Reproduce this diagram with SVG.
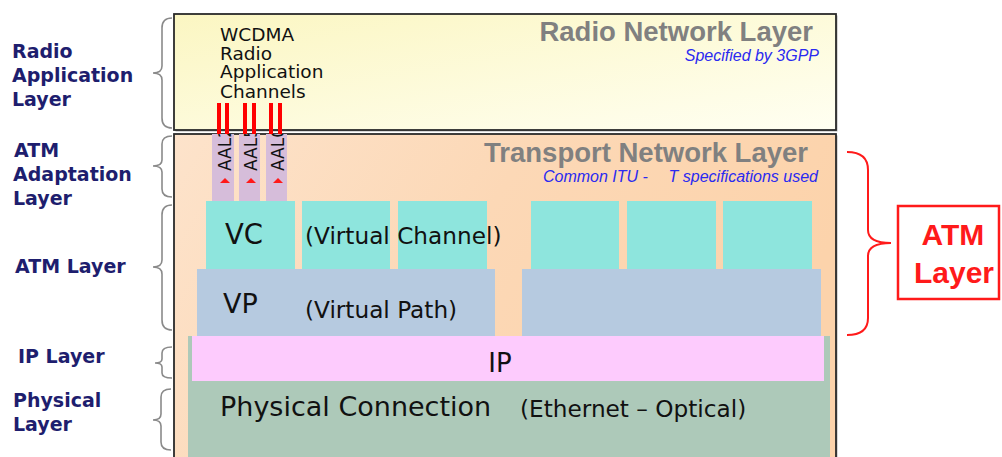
<svg xmlns="http://www.w3.org/2000/svg" width="1002" height="457" viewBox="0 0 1002 457">
<defs>
<linearGradient id="gYellow" x1="0" y1="0" x2="1" y2="1">
<stop offset="0" stop-color="#fbf6c2"/>
<stop offset="1" stop-color="#fffff2"/>
</linearGradient>
<linearGradient id="gPeach" x1="0" y1="0" x2="1" y2="0.3">
<stop offset="0" stop-color="#fde3cb"/>
<stop offset="0.5" stop-color="#fcd8b6"/>
<stop offset="1" stop-color="#fcd3ab"/>
</linearGradient>
<clipPath id="aalClip"><rect x="200" y="134" width="100" height="70"/></clipPath>
<style>
.lbl{font-family:"DejaVu Sans",Verdana,sans-serif;font-weight:bold;font-size:19px;fill:#1e1e6e}
.brace{fill:none;stroke:#8a8a8a;stroke-width:1.6}
.title{font-family:"Liberation Sans",Arial,sans-serif;font-weight:bold;font-size:27.5px;fill:#808080}
.sub{font-family:"Liberation Sans",Arial,sans-serif;font-style:italic;font-size:16px;fill:#2a2af0}
.body{font-family:"DejaVu Sans",Verdana,sans-serif;fill:#111}
.aal{font-family:"DejaVu Sans",Verdana,sans-serif;font-size:17px;fill:#111}
.vc{fill:#8ee5dd}
.vp{fill:#b6cae0}
.aalbar{fill:#d6bdda}
.redline{fill:#ff0000}
</style>
</defs>
<rect width="1002" height="457" fill="#ffffff"/>

<g id="radio-network-layer">
<rect x="175.5" y="15.5" width="662" height="116" fill="#b0b0b0"/>
<rect x="174" y="14" width="662" height="116" fill="url(#gYellow)" stroke="#2a2a2a" stroke-width="1.8"/>
<text class="title" x="813" y="41" text-anchor="end">Radio Network Layer</text>
<text class="sub" x="819" y="61" text-anchor="end">Specified by 3GPP</text>
<text class="body" font-size="18.5" x="220" y="41">WCDMA</text>
<text class="body" font-size="18.5" x="220" y="60">Radio</text>
<text class="body" font-size="18.5" x="220" y="78">Application</text>
<text class="body" font-size="18.5" x="220" y="98">Channels</text>
</g>

<g id="transport-network-layer">
<rect x="175.5" y="135.5" width="662" height="330" fill="#b0b0b0"/>
<rect x="174" y="134" width="662" height="330" fill="url(#gPeach)" stroke="#2a2a2a" stroke-width="1.8"/>
<text class="title" x="808" y="162" text-anchor="end">Transport Network Layer</text>
<text class="sub" x="543" y="182">Common ITU -</text>
<text class="sub" x="818" y="182" text-anchor="end">T specifications used</text>
</g>

<g id="aal-channels">
<rect class="aalbar" x="212" y="134" width="22" height="67"/>
<rect class="aalbar" x="239" y="134" width="21" height="67"/>
<rect class="aalbar" x="266" y="134" width="21" height="67"/>
<g clip-path="url(#aalClip)">
<text class="aal" transform="translate(230.5,171) rotate(-90)">AAL2</text>
<text class="aal" transform="translate(256.5,171) rotate(-90)">AAL5</text>
<text class="aal" transform="translate(283.5,171) rotate(-90)">AAL0</text>
</g>
<polygon points="220,183 230,183 225,178" fill="#ff1a1a"/>
<polygon points="246,183 256,183 251,178" fill="#ff1a1a"/>
<polygon points="273,183 283,183 278,178" fill="#ff1a1a"/>
<rect class="redline" x="217" y="103" width="4" height="31"/>
<rect class="redline" x="225" y="103" width="4" height="31"/>
<rect class="redline" x="243" y="103" width="4" height="31"/>
<rect class="redline" x="252" y="103" width="4" height="31"/>
<rect class="redline" x="269" y="103" width="4" height="31"/>
<rect class="redline" x="278" y="103" width="4" height="31"/>
</g>

<g id="physical-connection">
<rect x="188" y="336" width="642" height="130" fill="#adc9b9"/>
<text class="body" font-size="27" x="220" y="416">Physical Connection</text>
<text class="body" font-size="23.2" x="520" y="417">(Ethernet – Optical)</text>
</g>

<g id="ip">
<rect x="192" y="336" width="632" height="45" fill="#fdcbfd"/>
<text class="body" font-size="26" x="500" y="372" text-anchor="middle">IP</text>
</g>

<g id="vp">
<rect class="vp" x="197" y="269" width="298" height="67"/>
<rect class="vp" x="522" y="269" width="299" height="67"/>
<text class="body" font-size="27" x="223" y="313">VP</text>
<text class="body" font-size="23.2" x="305" y="318">(Virtual Path)</text>
</g>

<g id="vc">
<rect class="vc" x="206" y="201" width="89" height="68"/>
<rect class="vc" x="302" y="201" width="88" height="68"/>
<rect class="vc" x="398" y="201" width="89" height="68"/>
<rect class="vc" x="531" y="201" width="88" height="68"/>
<rect class="vc" x="627" y="201" width="89" height="68"/>
<rect class="vc" x="723" y="201" width="89" height="68"/>
<text class="body" font-size="27.5" x="225" y="244">VC</text>
<text class="body" font-size="23.2" x="305" y="244">(Virtual Channel)</text>
</g>

<g id="left-labels">
<text class="lbl" x="12" y="58">Radio</text>
<text class="lbl" x="12" y="82">Application</text>
<text class="lbl" x="12" y="106">Layer</text>
<text class="lbl" x="14" y="157">ATM</text>
<text class="lbl" x="13" y="181">Adaptation</text>
<text class="lbl" x="13" y="205">Layer</text>
<text class="lbl" x="15" y="273">ATM Layer</text>
<text class="lbl" x="18" y="363">IP Layer</text>
<text class="lbl" x="13" y="407">Physical</text>
<text class="lbl" x="13" y="431">Layer</text>
</g>

<g id="connectors">
<path class="brace" d="M172,18 Q162,18 162,28 L162,66 Q162,73 153,73 Q162,73 162,80 L162,118 Q162,128 172,128"/>
<path class="brace" d="M172,136 Q162,136 162,144 L162,160 Q162,166 153,166 Q162,166 162,172 L162,189 Q162,197 172,197"/>
<path class="brace" d="M172,205 Q162,205 162,215 L162,260 Q162,267 153,267 Q162,267 162,274 L162,320 Q162,330 172,330"/>
<path class="brace" d="M172,347 Q162,347 162,353 L162,359 Q162,363 155,363 Q162,363 162,367 L162,373 Q162,378 172,378"/>
<path class="brace" d="M171,389 Q161,389 161,397 L161,414 Q161,420 153,420 Q161,420 161,426 L161,442 Q161,450 171,450"/>
<path d="M847,152 Q868,152 868,170 L868,230 Q868,243 891,243 Q868,243 868,256 L868,318 Q868,335 847,335" fill="none" stroke="#ff1a1a" stroke-width="2"/>
</g>

<g id="atm-layer-box">
<rect x="898" y="206" width="101" height="93" fill="#ffffff" stroke="#ff1a1a" stroke-width="2.5"/>
<text x="953" y="245" text-anchor="middle" font-family="'Liberation Sans',Arial,sans-serif" font-weight="bold" font-size="30" fill="#ff1a1a">ATM</text>
<text x="954" y="283" text-anchor="middle" font-family="'Liberation Sans',Arial,sans-serif" font-weight="bold" font-size="30" fill="#ff1a1a">Layer</text>
</g>
</svg>
